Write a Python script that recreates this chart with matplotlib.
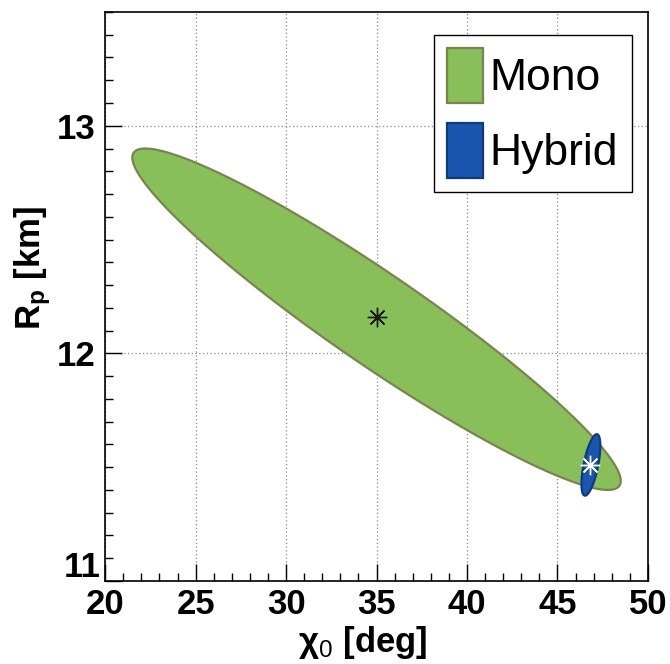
import numpy as np
import matplotlib
matplotlib.use("Agg")
from matplotlib import pyplot as plt
from matplotlib.patches import Patch
from matplotlib.ticker import MultipleLocator, FuncFormatter

plt.rcParams['font.family'] = ['Liberation Sans', 'DejaVu Sans']
plt.rcParams['mathtext.fontset'] = 'custom'
plt.rcParams['mathtext.rm'] = 'Liberation Sans'
plt.rcParams['mathtext.bf'] = 'Liberation Sans:bold'
plt.rcParams['mathtext.it'] = 'Liberation Sans:italic'

# fit results: centre, contour sizes and correlation
labels = ["Mono", "Hybrid"]
center_x = [35.0, 46.85]
center_y = [12.15, 11.51]
sigma_x = [13.5, 0.52]
sigma_y = [0.75, 0.135]
rho = [-0.947, 0.62]
best_x = [35.0, 46.8]
best_y = [12.16, 11.51]

face_colors = ["#88bf58", "#1a56b0"]
edge_colors = ["#7b8450", "#0d3a80"]
star_colors = ["#1a1a1a", "white"]

fig = plt.figure(figsize=(6.7, 6.64), dpi=100)
ax = fig.add_axes([0.157, 0.125, 0.81, 0.857])

t = np.linspace(0, 2 * np.pi, 500)
for i in range(len(labels)):
    ex = center_x[i] + sigma_x[i] * np.cos(t)
    ey = center_y[i] + sigma_y[i] * (rho[i] * np.cos(t) + np.sqrt(1 - rho[i] ** 2) * np.sin(t))
    ax.fill(ex, ey, facecolor=face_colors[i], edgecolor=edge_colors[i], linewidth=1.6, zorder=2 + i)
    ax.plot(best_x[i], best_y[i], marker=(8, 2, 0), markersize=14, markeredgewidth=1.0,
            color=star_colors[i], linestyle="none", zorder=5)

ymin, ymax = 11, 13.5
ax.set_xlim(20, 50)
ax.set_ylim(ymin, ymax)
ax.xaxis.set_major_locator(MultipleLocator(5))
ax.xaxis.set_minor_locator(MultipleLocator(1))
ax.yaxis.set_major_locator(MultipleLocator(1))
ax.yaxis.set_minor_locator(MultipleLocator(0.1))
# the bottom y label is drawn separately so it sits above the axis like ROOT does
ax.yaxis.set_major_formatter(FuncFormatter(lambda v, p: "" if abs(v - ymin) < 1e-6 else f"{v:g}"))
ax.tick_params(which="both", direction="in", top=False, right=False, width=1)
ax.tick_params(which="major", length=12, labelsize=25)
ax.tick_params(axis="x", which="major", pad=5)
ax.tick_params(axis="y", which="major", pad=7)
ax.tick_params(which="minor", length=6)
for lab in ax.get_xticklabels() + ax.get_yticklabels():
    lab.set_fontweight("bold")
ax.annotate(f"{ymin:g}", xy=(0, ymin), xycoords=ax.get_yaxis_transform(),
            xytext=(-3, -2), textcoords="offset points", ha="right", va="bottom",
            fontsize=25, fontweight="bold")
ax.grid(True, which="major", linestyle=(0, (1, 2)), color="#888888", linewidth=0.9, zorder=0)
ax.set_axisbelow(True)
for sp in ax.spines.values():
    sp.set_linewidth(1.2)

ax.set_xlabel("χ$_0$ [deg]", fontsize=25, fontweight="bold")
ax.xaxis.set_label_coords(0.475, -0.075)
ax.set_ylabel(r"R$_\mathbf{p}$ [km]", fontsize=25, fontweight="bold")
ax.yaxis.set_label_coords(-0.097, 0.55)

handles = [Patch(facecolor=face_colors[i], edgecolor=edge_colors[i], linewidth=1.6, label=labels[i])
           for i in range(len(labels))]
leg = ax.legend(handles=handles, loc="upper right", bbox_to_anchor=(0.97, 0.96),
                fontsize=32, frameon=True, fancybox=False, framealpha=1,
                handlelength=0.81, handleheight=1.53, handletextpad=0.15,
                labelspacing=0.45, borderpad=0.3, borderaxespad=0)
leg.get_frame().set_edgecolor("black")
leg.get_frame().set_linewidth(1.0)

fig.savefig("out.png", dpi=100)
